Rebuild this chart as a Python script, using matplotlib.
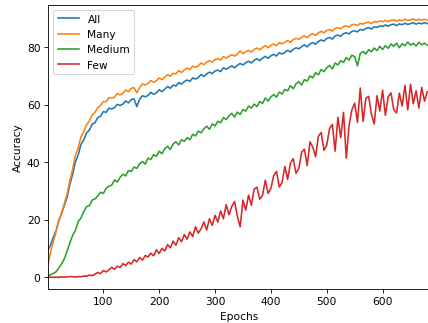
import matplotlib
matplotlib.use("Agg")
import matplotlib.pyplot as plt

epochs = [1] + list(range(5, 681, 5))

acc_all = [9.5,
    11.0, 13.8, 16.0, 19.6, 22.1, 24.9, 27.8, 32.3, 35.8, 40.2,
    42.6, 46.3, 47.8, 50.3, 51.2, 53.3, 53.8, 55.6, 56.1, 57.7,
    57.4, 58.9, 58.6, 59.1, 60.2, 59.8, 60.3, 61.4, 60.7, 61.9,
    62.1, 59.4, 62.0, 63.2, 62.8, 63.3, 64.4, 63.7, 64.2, 65.3,
    64.6, 65.5, 66.4, 65.8, 66.9, 66.6, 67.8, 67.2, 68.1, 68.7,
    68.2, 69.4, 69.0, 69.5, 70.6, 69.9, 70.8, 71.4, 70.9, 71.8,
    72.1, 71.6, 72.9, 72.4, 73.0, 73.6, 72.9, 73.8, 74.4, 73.9,
    74.7, 75.2, 74.6, 75.5, 76.1, 75.4, 76.3, 76.9, 76.2, 77.1,
    77.6, 77.0, 78.2, 77.7, 78.3, 79.0, 78.4, 79.3, 79.9, 79.5,
    80.3, 80.9, 80.2, 81.2, 81.7, 81.1, 82.1, 82.6, 82.2, 83.1,
    83.5, 82.9, 84.0, 84.3, 83.9, 84.8, 85.1, 84.7, 85.6, 85.8,
    85.4, 86.3, 86.0, 86.6, 86.9, 86.4, 87.2, 87.0, 87.5, 87.3,
    87.8, 87.4, 87.9, 88.1, 87.6, 88.2, 87.9, 88.4, 88.0, 88.3,
    88.6, 88.1, 88.5, 88.2, 88.6, 88.3]

acc_many = [4.5,
    8.3, 12.2, 15.6, 19.4, 22.3, 25.6, 28.9, 33.6, 37.6, 42.4,
    45.1, 48.9, 50.8, 53.1, 54.4, 56.5, 57.4, 59.0, 59.8, 61.2,
    61.1, 62.5, 62.4, 62.7, 64.0, 63.5, 64.1, 65.2, 64.6, 65.8,
    66.0, 64.2, 66.1, 67.3, 66.9, 67.5, 68.5, 67.9, 68.4, 69.4,
    68.8, 69.7, 70.5, 70.0, 71.0, 70.8, 71.9, 71.3, 72.2, 72.8,
    72.3, 73.5, 73.1, 73.6, 74.6, 74.0, 74.9, 75.4, 74.9, 75.8,
    76.1, 75.6, 76.8, 76.3, 76.9, 77.5, 77.0, 77.7, 78.8, 77.8,
    78.5, 79.0, 78.4, 79.3, 79.8, 79.2, 80.0, 80.6, 79.9, 80.7,
    81.2, 80.6, 81.7, 81.2, 81.8, 82.4, 81.8, 82.7, 83.2, 82.8,
    83.5, 84.1, 83.4, 84.3, 84.8, 84.2, 85.1, 85.6, 85.1, 85.9,
    86.2, 85.7, 86.6, 86.9, 86.5, 87.3, 87.5, 87.1, 87.9, 88.0,
    87.6, 88.4, 88.1, 88.6, 88.8, 88.3, 89.0, 88.8, 89.2, 89.0,
    89.4, 89.0, 89.4, 89.6, 89.1, 89.6, 89.3, 89.8, 89.4, 89.6,
    89.9, 89.4, 89.8, 89.5, 89.8, 89.5]

acc_medium = [0.5,
    0.9, 1.3, 1.9, 3.2, 4.6, 6.4, 9.1, 12.0, 14.6, 16.3,
    19.4, 20.7, 22.9, 24.6, 25.0, 26.9, 27.3, 28.4, 29.6, 29.2,
    31.0, 31.7, 32.1, 33.9, 33.2, 34.8, 35.9, 35.3, 37.2, 36.8,
    38.4, 37.9, 39.6, 40.3, 39.4, 41.5, 41.0, 42.7, 42.1, 43.9,
    43.0, 44.8, 45.6, 44.5, 46.4, 47.2, 46.1, 47.9, 47.3, 48.6,
    47.9, 49.8, 49.2, 50.9, 50.3, 51.7, 52.6, 51.5, 53.4, 52.7,
    54.3, 53.8, 55.6, 54.9, 56.2, 57.1, 55.8, 57.5, 56.7, 58.4,
    57.8, 59.6, 58.9, 60.3, 59.4, 61.2, 60.5, 62.4, 61.3, 62.8,
    63.6, 62.7, 64.5, 63.8, 65.4, 64.9, 66.7, 65.6, 67.4, 68.1,
    66.9, 68.8, 68.3, 70.1, 69.4, 71.2, 70.5, 72.3, 71.6, 72.9,
    73.7, 72.5, 74.6, 73.9, 75.4, 74.8, 76.5, 75.6, 77.3, 76.8,
    73.6, 77.9, 78.6, 77.7, 79.2, 78.5, 79.8, 78.9, 80.4, 79.3,
    80.6, 79.7, 81.2, 80.4, 81.5, 79.9, 81.3, 80.6, 81.9, 80.8,
    81.4, 80.5, 81.8, 80.9, 81.5, 80.8]

acc_few = [0.0,
    0.1, 0.0, 0.1, 0.0, 0.2, 0.1, 0.1, 0.3, 0.2, 0.1,
    0.3, 0.2, 0.5, 0.4, 0.8, 0.6, 1.1, 1.7, 1.3, 2.4,
    1.9, 2.6, 3.5, 2.8, 3.9, 3.4, 4.8, 4.1, 5.3, 4.6,
    6.2, 5.4, 6.9, 6.0, 7.6, 7.1, 8.4, 7.5, 9.6, 8.3,
    10.1, 9.2, 11.4, 10.3, 12.6, 11.2, 13.8, 12.4, 14.9, 13.3,
    15.8, 14.2, 17.6, 15.4, 16.9, 19.3, 16.5, 20.4, 18.1, 21.6,
    19.2, 23.1, 20.4, 25.3, 21.8, 24.7, 26.4, 21.2, 17.6, 26.9,
    23.4, 28.6, 25.1, 30.7, 31.4, 27.2, 28.5, 33.8, 29.2, 31.0,
    35.4, 36.9, 31.4, 33.0, 38.6, 34.1, 39.8, 41.3, 36.2, 37.9,
    43.5, 44.6, 38.9, 47.2, 45.3, 42.0, 49.1, 50.4, 44.2, 46.0,
    51.8, 53.2, 43.9, 55.7, 48.6, 57.4, 41.5, 52.8, 58.3, 60.6,
    53.9, 65.9, 54.2, 62.3, 63.0, 56.7, 53.4, 63.2, 57.9, 65.1,
    56.4, 62.8, 64.2, 58.3, 57.2, 64.1, 59.6, 66.8, 58.3, 67.2,
    60.4, 64.9, 58.9, 66.1, 61.3, 64.6]

series_names = ["All", "Many", "Medium", "Few"]
series_values = [acc_all, acc_many, acc_medium, acc_few]
y_ticks = [0, 20, 40, 60, 80]
x_ticks = [100, 200, 300, 400, 500, 600]

W, H = 428, 323
DPI = 76.7
fig = plt.figure(figsize=((W + 0.4) / DPI, (H + 0.4) / DPI), dpi=DPI)
left_px, right_px, top_px, bottom_px = 48, 429.5, 5, 289.5
ax = fig.add_axes([left_px / W, 1 - bottom_px / H,
                   (right_px - left_px) / W, (bottom_px - top_px) / H])

for name, vals in zip(series_names, series_values):
    ax.plot(epochs, vals, label=name, linewidth=1.5)

ax.set_xlim(1, 1 + (right_px - left_px) / 0.558)
ax.set_ylim(-4.2, 94.9)
ax.set_xticks(x_ticks)
ax.set_yticks(y_ticks)
ax.set_xlabel("Epochs")
ax.set_ylabel("Accuracy")
ax.legend(loc="upper left")

fig.savefig("out.png", dpi=DPI)
